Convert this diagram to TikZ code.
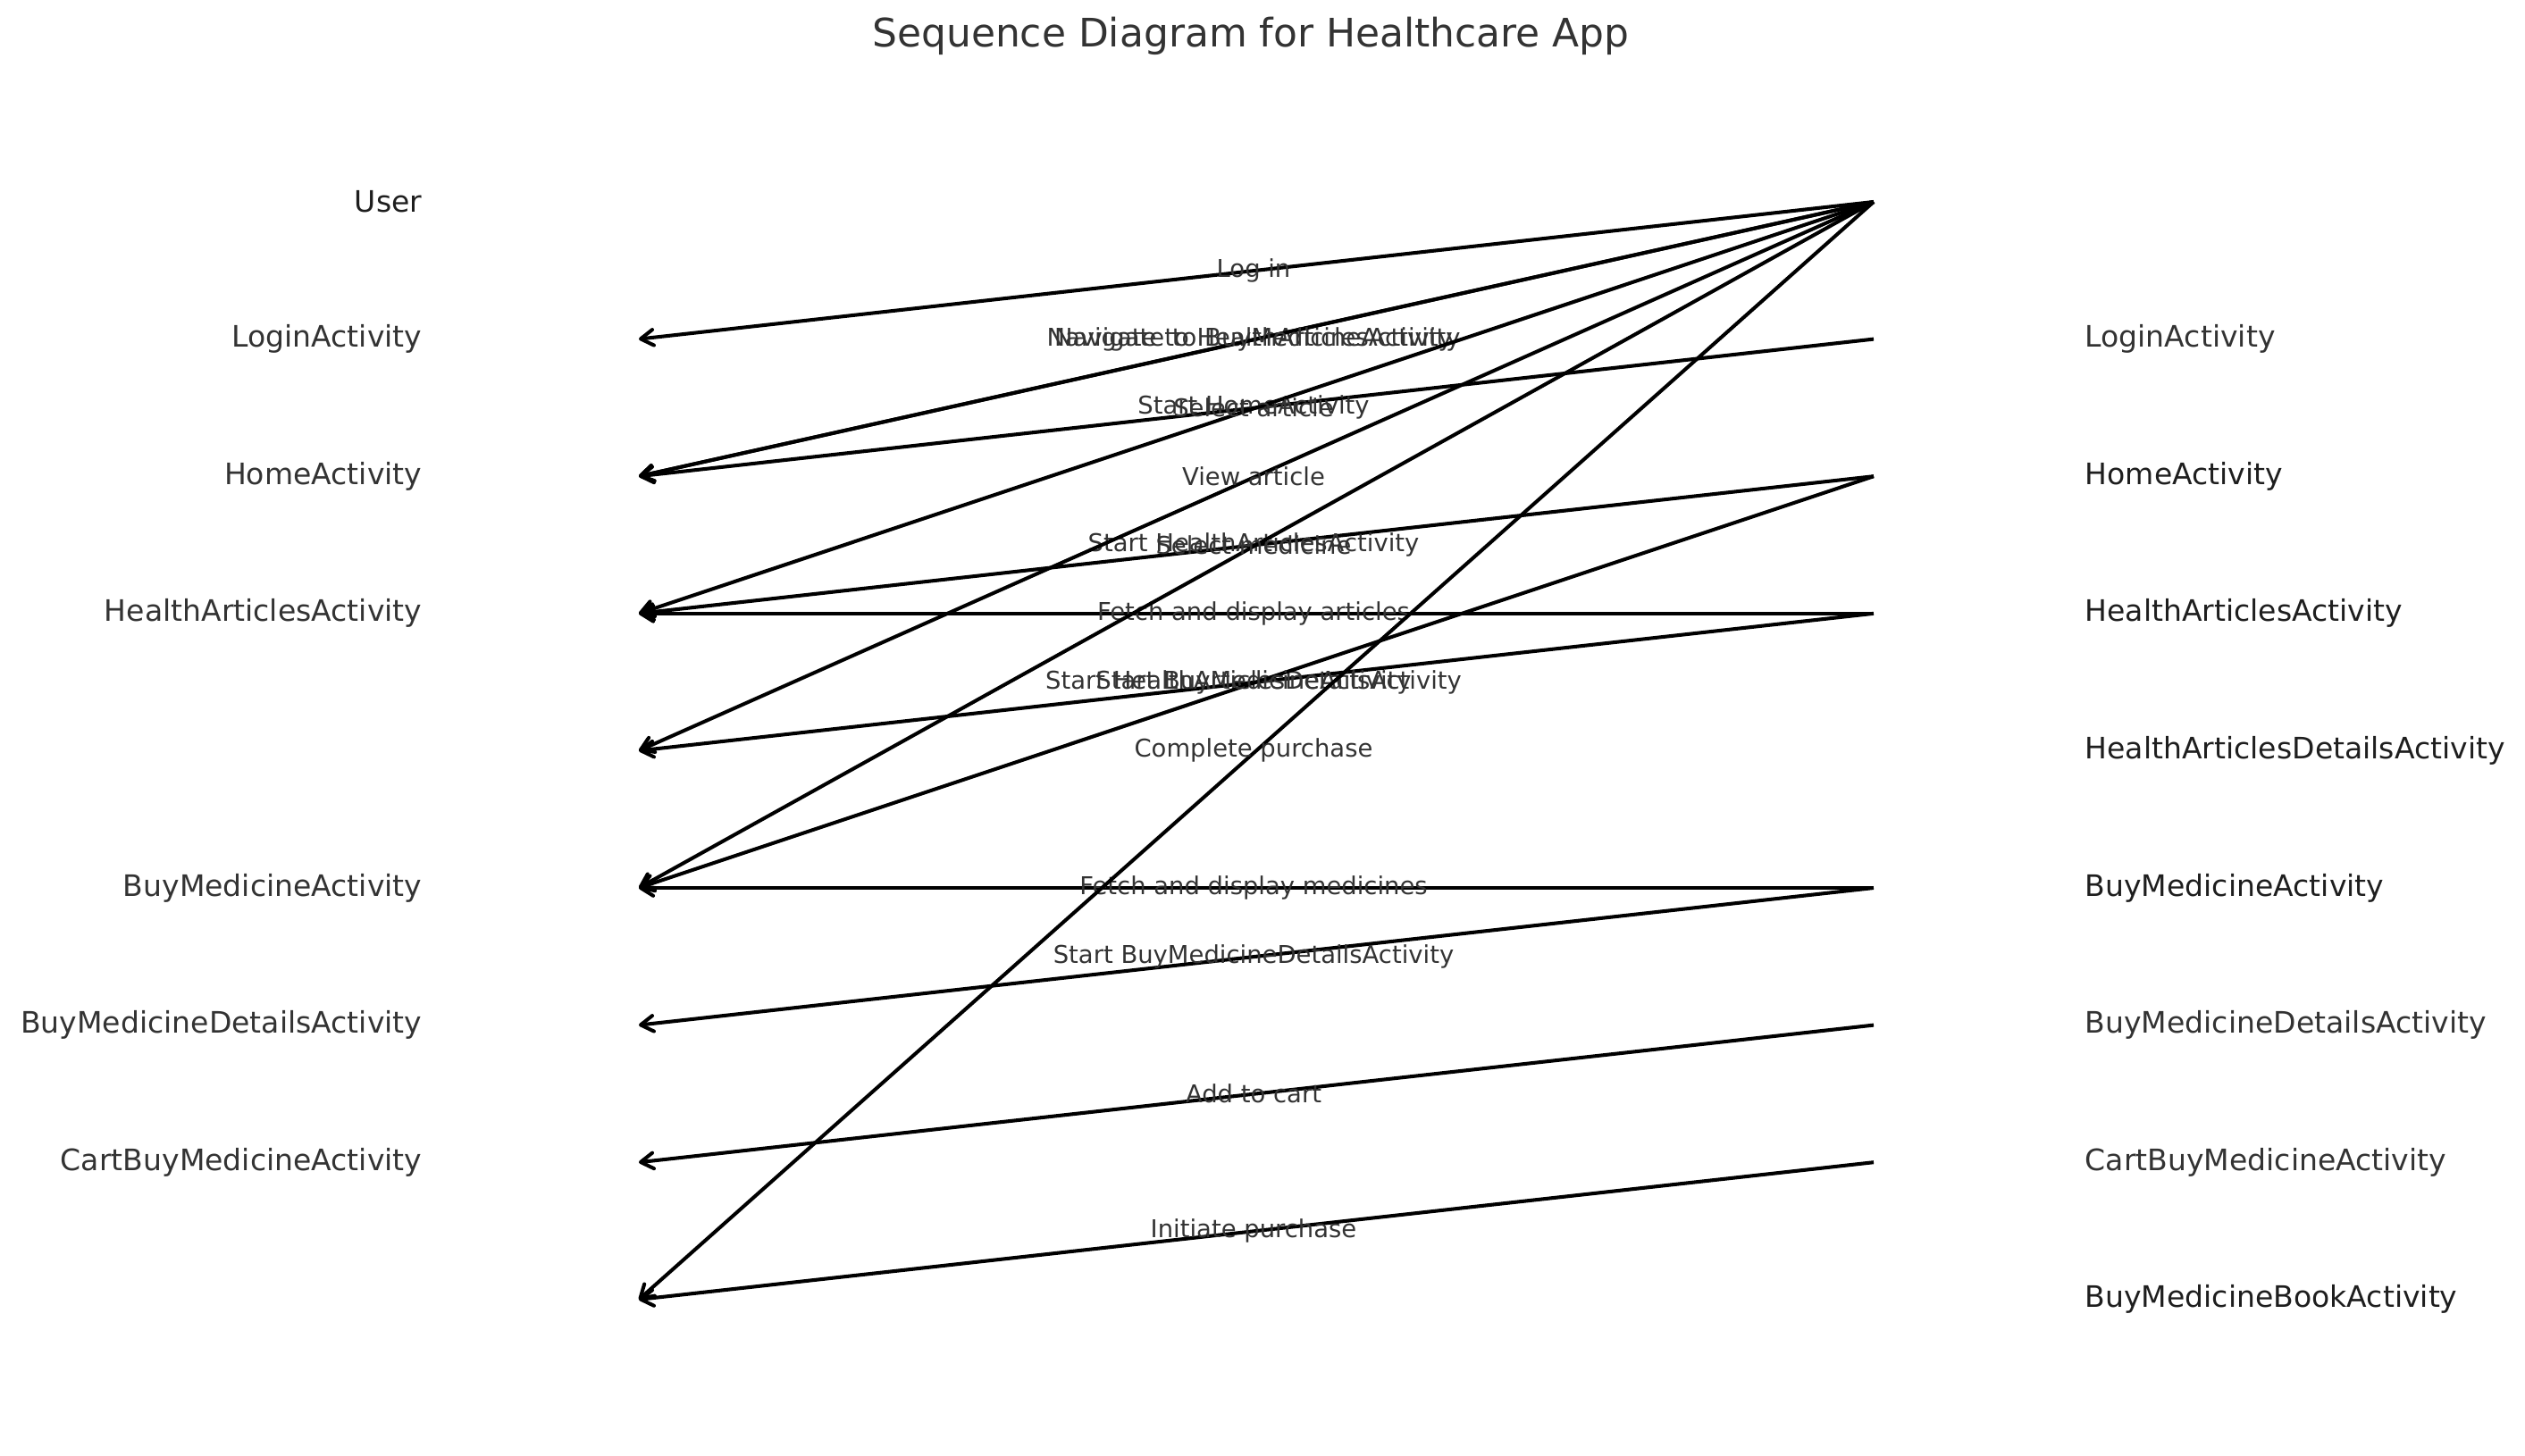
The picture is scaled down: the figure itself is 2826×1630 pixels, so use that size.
\documentclass[tikz,border=0pt]{standalone}
\usepackage{fontspec}
\setmainfont{DejaVu Sans}
\usetikzlibrary{arrows.meta}
\definecolor{txt}{HTML}{333333}
\definecolor{txtdark}{HTML}{1E1E1E}
\begin{document}
\begin{tikzpicture}[x=0.01cm,y=-0.01cm,
  msg/.style={draw=black,line width=1.15pt,-{Straight Barb[length=4pt,width=5pt,line width=1.15pt,round]}},
  lbl/.style={font=\fontsize{7.8}{9}\selectfont,text=txt,inner sep=0pt,anchor=center,xshift=-0.03cm},
  leftlab/.style={font=\fontsize{9.4}{11}\selectfont,text=txt,anchor=east,inner sep=0pt},
  rightlab/.style={font=\fontsize{9.4}{11}\selectfont,text=txt,anchor=west,inner sep=0pt},
  dark/.style={text=txtdark}]
\useasboundingbox (0,0) rectangle (2826,1630);
\node[font=\fontsize{12.5}{15}\selectfont,text=txt,inner sep=0pt] (title) at (1400,40) {Sequence Diagram for Healthcare App};
% row positions
\foreach \i in {0,...,8}{
  \coordinate (r\i) at (2097,{226+153.6*\i});
  \coordinate (l\i) at (715,{226+153.6*\i});
}
% left labels
\node[leftlab,dark] (L0) at (473,226) {User};
\node[leftlab] (L1) at (473,{226+153.6}) {LoginActivity};
\node[leftlab] (L2) at (473,{226+153.6*2}) {HomeActivity};
\node[leftlab] (L3) at (473,{226+153.6*3}) {HealthArticlesActivity};
\node[leftlab] (L5) at (473,{226+153.6*5}) {BuyMedicineActivity};
\node[leftlab] (L6) at (473,{226+153.6*6}) {BuyMedicineDetailsActivity};
\node[leftlab] (L7) at (473,{226+153.6*7}) {CartBuyMedicineActivity};
% right labels
\node[rightlab] (R1) at (2333,{226+153.6}) {LoginActivity};
\node[rightlab,dark] (R2) at (2333,{226+153.6*2}) {HomeActivity};
\node[rightlab,dark] (R3) at (2333,{226+153.6*3}) {HealthArticlesActivity};
\node[rightlab,dark] (R4) at (2333,{226+153.6*4}) {HealthArticlesDetailsActivity};
\node[rightlab,dark] (R5) at (2333,{226+153.6*5}) {BuyMedicineActivity};
\node[rightlab] (R6) at (2333,{226+153.6*6}) {BuyMedicineDetailsActivity};
\node[rightlab] (R7) at (2333,{226+153.6*7}) {CartBuyMedicineActivity};
\node[rightlab,dark] (R8) at (2333,{226+153.6*8}) {BuyMedicineBookActivity};
% messages
\draw[msg] (r0) -- (l1) node[lbl,midway] (m1) {Log in};
\draw[msg] (r0) -- (l2) node[lbl,midway] (m2) {Navigate to HealthArticlesActivity};
\draw[msg] (r0) -- (l2) node[lbl,midway] (m3) {Navigate to BuyMedicineActivity};
\draw[msg] (r1) -- (l2) node[lbl,midway] (m4) {Start HomeActivity};
\draw[msg] (r0) -- (l3) node[lbl,midway] (m5) {Select article};
\draw[msg] (r2) -- (l3) node[lbl,midway] (m6) {Start HealthArticlesActivity};
\draw[msg] (r3) -- (l3) node[lbl,midway] (m7) {Fetch and display articles};
\draw[msg] (r0) -- (l4) node[lbl,midway] (m8) {View article};
\draw[msg] (r3) -- (l4) node[lbl,midway] (m9) {Start HealthArticlesDetailsActivity};
\draw[msg] (r0) -- (l5) node[lbl,midway] (m10) {Select medicine};
\draw[msg] (r2) -- (l5) node[lbl,midway] (m11) {Start BuyMedicineActivity};
\draw[msg] (r5) -- (l5) node[lbl,midway] (m12) {Fetch and display medicines};
\draw[msg] (r5) -- (l6) node[lbl,midway] (m13) {Start BuyMedicineDetailsActivity};
\draw[msg] (r6) -- (l7) node[lbl,midway] (m14) {Add to cart};
\draw[msg] (r7) -- (l8) node[lbl,midway] (m15) {Initiate purchase};
\draw[msg] (r0) -- (l8) node[lbl,midway] (m16) {Complete purchase};
\end{tikzpicture}
\end{document}
